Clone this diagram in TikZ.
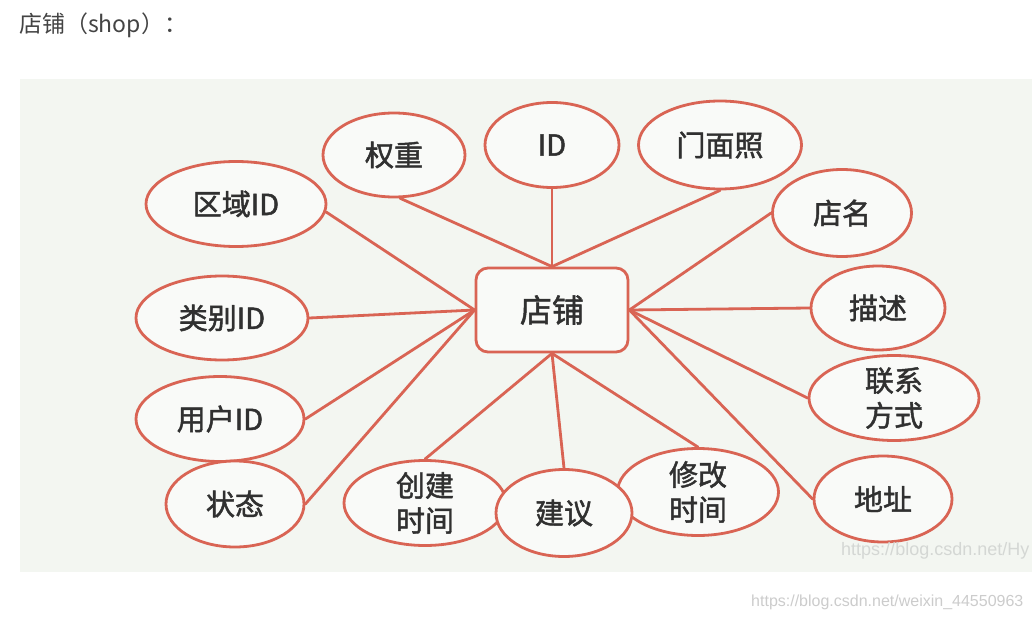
\documentclass[tikz,border=0pt]{standalone}
\usepackage{fontspec}
\setmainfont{Liberation Sans}
\newfontfamily\cjk[FakeBold=1.6]{Noto Sans CJK SC}
\newfontfamily\cjkplain{Noto Sans CJK SC}
\usetikzlibrary{shapes.geometric}
\definecolor{er}{RGB}{217,100,84}
\definecolor{panel}{RGB}{243,246,241}
\definecolor{shapefill}{RGB}{249,250,248}
\definecolor{txt}{RGB}{48,48,48}
\definecolor{ttl}{RGB}{68,68,68}
\definecolor{wm}{RGB}{212,215,212}
\definecolor{wmb}{RGB}{204,204,204}
\tikzset{
  attr/.style 2 args={ellipse, draw=er, line width=2.8pt, fill=shapefill,
    inner sep=0pt, minimum width=#1pt, minimum height=#2pt},
  lbl/.style={font=\cjk\fontsize{29pt}{35pt}\selectfont, text=txt, align=center, inner sep=0pt},
  link/.style={draw=er, line width=2.8pt, line cap=round},
  entity/.style={rectangle, rounded corners=12pt, draw=er, line width=2.8pt, fill=shapefill,
    minimum width=152pt, minimum height=84pt, inner sep=0pt}
}
\begin{document}
\begin{tikzpicture}[x=1pt,y=-1pt]
\useasboundingbox (0,0) rectangle (1032,620);
\clip (0,0) rectangle (1032,620);
\fill[white] (0,0) rectangle (1032,620);
\fill[panel] (20,79) rectangle (1032,572);

\node[anchor=west, inner sep=0pt, text=ttl, font=\cjkplain\fontsize{23pt}{26pt}\selectfont] (title) at (19,25) {店铺（shop）：};

% central entity
\node[entity] (shop) at (552,310) {};

% attribute ellipses
\node[attr={142}{84}] (qz) at (394,155) {};
\node[attr={180}{85}] (qy) at (236,204) {};
\node[attr={134}{85}] (id) at (552,145) {};
\node[attr={163}{88}] (mmz) at (720,145) {};
\node[attr={139}{87}] (dm) at (842,213) {};
\node[attr={134}{84}] (ms) at (878,308) {};
\node[attr={170}{85}] (lx) at (894,398) {};
\node[attr={138}{86}] (dz) at (883,499) {};
\node[attr={172}{84}] (lb) at (222,318) {};
\node[attr={168}{85}] (yh) at (220,419) {};
\node[attr={138}{86}] (zt) at (235,504) {};
\node[attr={162}{85}] (cj) at (425,503) {};
\node[attr={161}{87}] (xg) at (698,492) {};
\node[attr={136}{87}] (jy) at (564,513) {};

% connectors
\draw[link] (qy.-5) -- (shop.west);
\draw[link] (lb.east) -- (shop.west);
\draw[link] (yh.east) -- (shop.west);
\draw[link] (zt.east) -- (shop.west);
\draw[link] (qz.-82) -- (shop.north);
\draw[link] (id.south) -- (shop.north);
\draw[link] (mmz.south) -- (shop.north);
\draw[link] (dm.west) -- (shop.east);
\draw[link] (ms.west) -- (shop.east);
\draw[link] (lx.west) -- (shop.east);
\draw[link] (dz.west) -- (shop.east);
\draw[link] (cj.north) -- (shop.south);
\draw[link] (jy.north) -- (shop.south);
\draw[link] (xg.north) -- (shop.south);

% labels
\node[lbl, font=\cjk\fontsize{32pt}{36pt}\selectfont] (shopt) at (shop.center) {店铺};
\node[lbl] (qzt) at (qz.center) {权重};
\node[lbl] (qyt) at (qy.center) {区域ID};
\node[lbl] (idt) at (id.center) {ID};
\node[lbl] (mmzt) at (mmz.center) {门面照};
\node[lbl] (dmt) at (dm.center) {店名};
\node[lbl] (mst) at (ms.center) {描述};
\node[lbl] (lxt) at (lx.center) {联系\\方式};
\node[lbl] (dzt) at (dz.center) {地址};
\node[lbl] (lbt) at (lb.center) {类别ID};
\node[lbl] (yht) at (yh.center) {用户ID};
\node[lbl] (ztt) at (zt.center) {状态};
\node[lbl] (cjt) at (cj.center) {创建\\时间};
\node[lbl] (xgt) at (xg.center) {修改\\时间};
\node[lbl] (jyt) at (jy.center) {建议};

% watermarks
\node[anchor=west, inner sep=0pt, text=wm, font=\fontsize{18pt}{20pt}\selectfont] (wm1) at (841,551) {https://blog.csdn.net/Hy};
\node[anchor=west, inner sep=0pt, text=wmb, font=\fontsize{16pt}{18pt}\selectfont] (wm2) at (751,602) {https://blog.csdn.net/weixin\_44550963};
\end{tikzpicture}
\end{document}
